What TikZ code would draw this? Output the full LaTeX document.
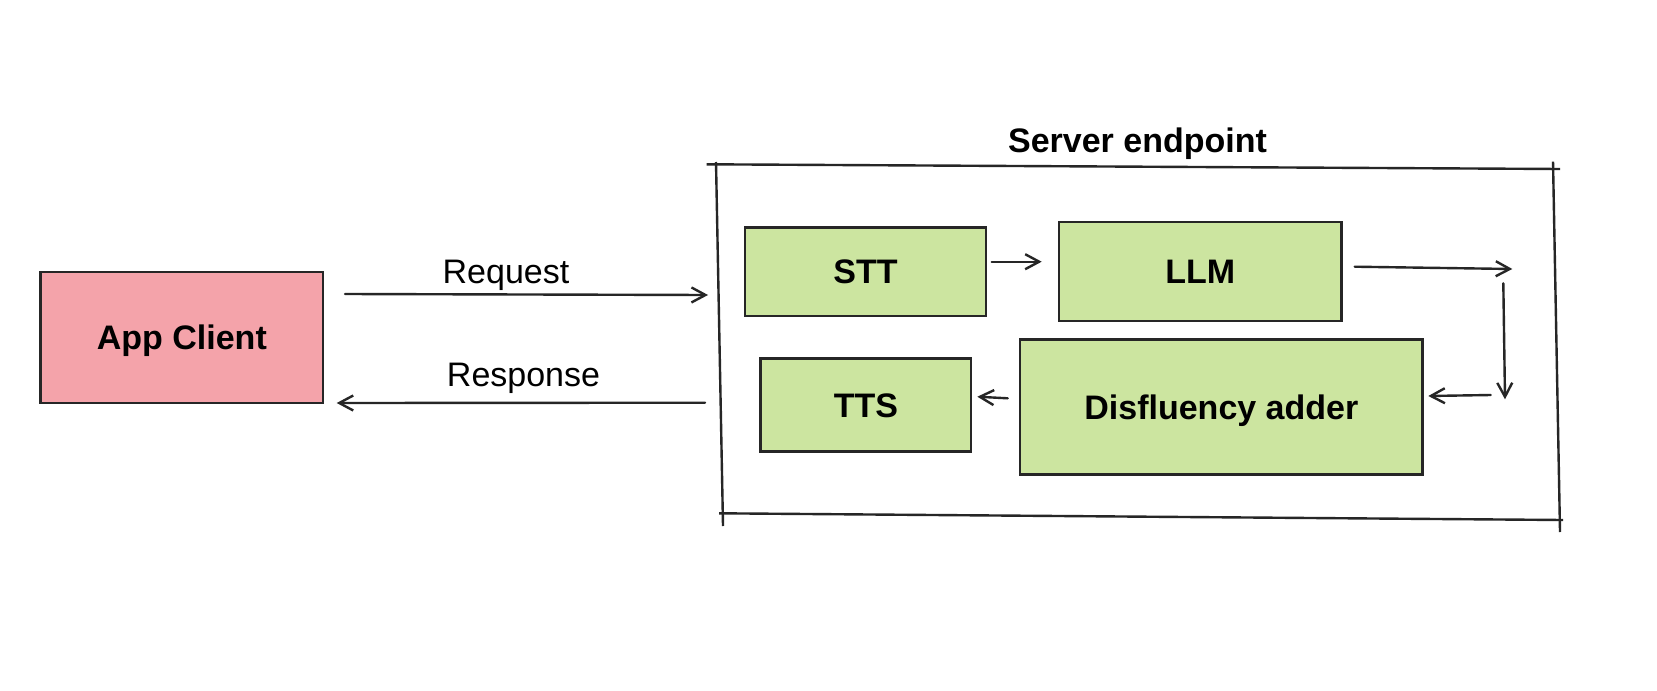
\documentclass[tikz,border=0pt]{standalone}
\usepackage{fontspec}
\setmainfont{Liberation Sans}
\usetikzlibrary{arrows.meta}
\definecolor{pinkfill}{HTML}{F4A3AA}
\definecolor{greenfill}{HTML}{CCE5A0}
\definecolor{ink}{HTML}{262626}
\begin{document}
\begin{tikzpicture}[x=0.5pt,y=-0.5pt,
  box/.style={draw=ink,line width=1.3pt,rectangle,inner sep=0pt,
    text height=12.2pt,text depth=0pt,
    font=\fontsize{17}{20}\selectfont\bfseries},
  pinkbox/.style={box,fill=pinkfill},
  greenbox/.style={box,fill=greenfill},
  arr/.style={draw=ink,line width=1.2pt,line cap=round,
    -{Straight Barb[length=7pt,width=7.5pt,line width=1.2pt]}},
  framepart/.style={draw=ink,line width=1.2pt},
  lbl/.style={anchor=base,inner sep=0pt,font=\fontsize{17}{20}\selectfont},
  title/.style={lbl,font=\fontsize{17}{20}\selectfont\bfseries}]
\useasboundingbox[fill=white] (0,0) rectangle (1657,690);

% nodes
\node[pinkbox,minimum width=141.15pt,minimum height=65.5pt] (client) at (181.85,337.5) {App Client};
\node[greenbox,minimum width=120.5pt,minimum height=44.35pt] (stt) at (865.5,271.65) {STT};
\node[greenbox,minimum width=141.35pt,minimum height=49.6pt] (llm) at (1200.35,271.4) {LLM};
\node[greenbox,minimum width=105.15pt,minimum height=46.7pt] (tts) at (865.85,405) {TTS};
\node[greenbox,minimum width=201.35pt,minimum height=67.5pt] (dis) at (1221.35,406.8) {Disfluency adder};

% labels
\node[lbl] (reqlbl) at (506,283.3) {Request};
\node[lbl] (reslbl) at (523.5,386.7) {Response};
\node[title] (srvlbl) at (1137.5,152.7) {Server endpoint};

% sketchy server frame
\coordinate (ftA) at (706.7,164.3);
\coordinate (ftB) at (1560,169);
\coordinate (flA) at (716,162);
\coordinate (flB) at (723,526);
\coordinate (fbA) at (719,513.3);
\coordinate (fbB) at (1563,520);
\coordinate (frA) at (1553,161.7);
\coordinate (frB) at (1560,532);
\draw[framepart] (ftA) -- (ftB);
\draw[framepart] (flA) -- (flB);
\draw[framepart] (fbA) -- (fbB);
\draw[framepart] (frA) -- (frB);

% connector end points
\coordinate (reqS) at (345,294);
\coordinate (reqE) at (708,295);
\coordinate (resS) at (705,402.7);
\coordinate (resE) at (336.7,403);
\coordinate (sl1) at (991.7,261.7);
\coordinate (sl2) at (1041.7,261.7);
\coordinate (lr1) at (1354.7,266.7);
\coordinate (lr2) at (1512.3,269);
\coordinate (dn1) at (1503.3,283.3);
\coordinate (dn2) at (1505,399.3);
\coordinate (dd1) at (1490.7,395);
\coordinate (dd2) at (1428.3,396);
\coordinate (dt1) at (1007.7,398.3);
\coordinate (dt2) at (977.3,396.7);

% connectors
\draw[arr] (reqS) -- (reqE);
\draw[arr] (resS) -- (resE);
\draw[arr] (sl1) -- (sl2);
\draw[arr] (lr1) -- (lr2);
\draw[arr] (dn1) -- (dn2);
\draw[arr] (dd1) -- (dd2);
\draw[arr] (dt1) -- (dt2);
\end{tikzpicture}
\end{document}
